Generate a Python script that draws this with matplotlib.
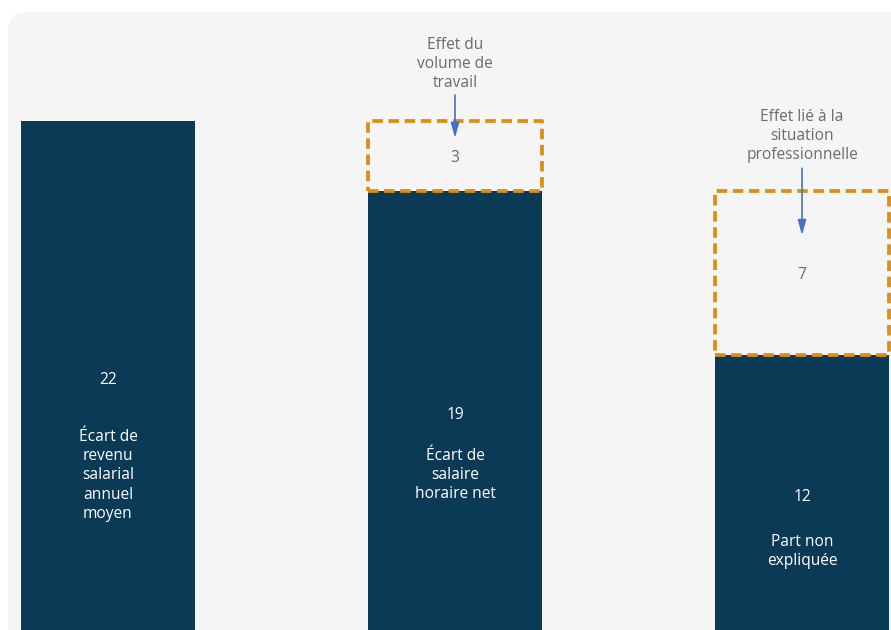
import matplotlib
matplotlib.use("Agg")
import matplotlib.pyplot as plt
import matplotlib.transforms as mtransforms
from matplotlib.patches import FancyBboxPatch

# ---- data ----
categories = ["Écart de\nrevenu\nsalarial\nannuel\nmoyen",
              "Écart de\nsalaire\nhoraire net",
              "Part non\nexpliquée"]
values = [22, 19, 12]
effect_index = [1, 2]
effect_values = [3, 7]
effect_labels = ["Effet du\nvolume de\ntravail",
                 "Effet lié à la\nsituation\nprofessionnelle"]

# ---- style ----
BAR = "#0B3A57"
ORANGE = "#DB8E12"
GREY_TXT = "#6B6B6B"
ARROW = "#4472C4"
FS = 11.2
LS = 1.27
plt.rcParams["font.family"] = ["Open Sans", "DejaVu Sans"]

W, H, DPI = 891, 630, 100
fig = plt.figure(figsize=(W / DPI, H / DPI), dpi=DPI)
fig.patch.set_facecolor("white")

# rounded light grey panel
bg = FancyBboxPatch((8 / DPI, -0.5), 9.5, (H - 12) / DPI + 0.5,
                    boxstyle="round,pad=0,rounding_size=0.2",
                    transform=fig.dpi_scale_trans, facecolor="#F5F5F5",
                    edgecolor="none", zorder=-5)
fig.patches.append(bg)

ax = fig.add_axes([0, 0, 1, 1])
ax.patch.set_visible(False)
ax.axis("off")

spacing = 347.0
ax.set_xlim(-108 / spacing, (W - 108) / spacing)
scale = 23.4
base_px = 635.8
ax.set_ylim((base_px - H) / scale, base_px / scale)

x = list(range(len(values)))
width = 174 / spacing
ax.bar(x, values, width=width, color=BAR, zorder=2)

def off(dy_px):
    return mtransforms.offset_copy(ax.transData, fig=fig, x=0, y=dy_px, units="dots")

label_gap = [58, 42, 46]
for i, v in enumerate(values):
    ax.text(i, v / 2, str(v), transform=off(-1.5), ha="center", va="center",
            color="white", fontsize=FS, zorder=4)
    ax.text(i, v / 2, categories[i], transform=off(-2.5 - label_gap[i] + 10),
            ha="center", va="top", color="white", fontsize=FS,
            linespacing=LS, zorder=4)

# dashed effect boxes
head_off = [-17, -44]
tail_off = [26, 23]
text_off = [57, 55]
for k, (i, ev) in enumerate(zip(effect_index, effect_values)):
    base = values[i]
    bars = ax.bar(i, ev, bottom=base, width=width, fill=False,
                  edgecolor=ORANGE, linewidth=2.7,
                  linestyle=(0, (2.8, 1.5)), zorder=3)
    for b in bars:
        b.set_joinstyle("round")
    top = base + ev
    ax.text(i, base + ev / 2, str(ev), transform=off(-2), ha="center",
            va="center", color=GREY_TXT, fontsize=FS, zorder=4)
    ax.annotate("", xy=(i, top), xycoords=off(head_off[k]),
                xytext=(i, top), textcoords=off(tail_off[k]),
                arrowprops=dict(arrowstyle="-|>,head_length=0.9,head_width=0.25",
                                color=ARROW, lw=1.2, shrinkA=0, shrinkB=0),
                zorder=5)
    ax.text(i, top, effect_labels[k], transform=off(text_off[k]),
            ha="center", va="center", color=GREY_TXT, fontsize=FS,
            linespacing=LS, zorder=4)

fig.savefig("out.png", dpi=DPI)
